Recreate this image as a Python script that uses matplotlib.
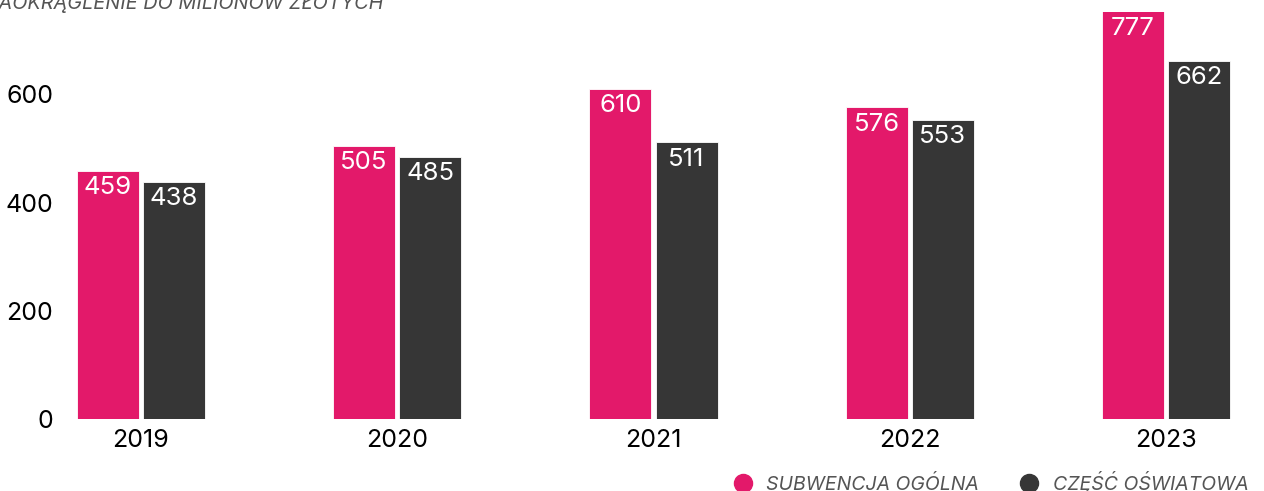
import numpy as np
import matplotlib.pyplot as plt
from matplotlib.lines import Line2D

years = ['2019', '2020', '2021', '2022', '2023']
subwencja = [459, 505, 610, 576, 777]
oswiatowa = [438, 485, 511, 553, 662]
series_names = ['SUBWENCJA OGÓLNA', 'CZĘŚĆ OŚWIATOWA']
y_ticks = [0, 200, 400, 600]

pink = '#E3196A'
dark = '#363636'
grey = '#555555'

plt.rcParams['font.family'] = ['Inter', 'DejaVu Sans']

W, H = 1264, 491
fig = plt.figure(figsize=(W / 100, H / 100), dpi=100)
# axes placed in pixel coordinates
ax_left, ax_right, ax_top, ax_bottom = 70, 1240, 12, 419
ax = fig.add_axes([ax_left / W, 1 - ax_bottom / H,
                   (ax_right - ax_left) / W, (ax_bottom - ax_top) / H])

x = np.arange(len(years))
bw = 0.242
off = 0.129
ymax = 752

b1 = ax.bar(x - off, subwencja, bw, color=pink, edgecolor='white', linewidth=0.6)
b2 = ax.bar(x + off, oswiatowa, bw, color=dark, edgecolor='white', linewidth=0.6)

for bars, vals in [(b1, subwencja), (b2, oswiatowa)]:
    for rect, v in zip(bars, vals):
        top = min(v, ymax)
        ax.text(rect.get_x() + rect.get_width() / 2, top - 31, str(v),
                ha='center', va='center', color='white', fontsize=18.5)

ax.set_xlim(-(141 - ax_left) / 256.5, 4 + (ax_right - 1166) / 256.5)
ax.set_ylim(0, ymax)
ax.set_xticks(x)
ax.set_xticklabels(years, fontsize=18)
ax.set_yticks(y_ticks)
ax.set_yticklabels([str(t) for t in y_ticks], fontsize=18)
ax.tick_params(length=0, pad=7)
ax.tick_params(axis='y', pad=12)
for s in ax.spines.values():
    s.set_visible(False)

# subtitle, partly cut off at the top left
fig.text(-14 / W, 1 - 9 / H, 'ZAOKRĄGLENIE DO MILIONÓW ZŁOTYCH',
         fontsize=14.3, style='italic', color=grey, ha='left', va='baseline')

handles = [Line2D([], [], marker='o', linestyle='', markersize=13, color=pink),
           Line2D([], [], marker='o', linestyle='', markersize=13, color=dark)]
leg = fig.legend(handles, series_names, loc='center right',
                 bbox_to_anchor=(1256 / W, 1 - 482 / H), ncol=2, frameon=False,
                 handletextpad=0.2, columnspacing=1.6, borderaxespad=0,
                 prop={'size': 14, 'style': 'italic'})
for t in leg.get_texts():
    t.set_color(grey)

fig.savefig('out.png', dpi=100)
